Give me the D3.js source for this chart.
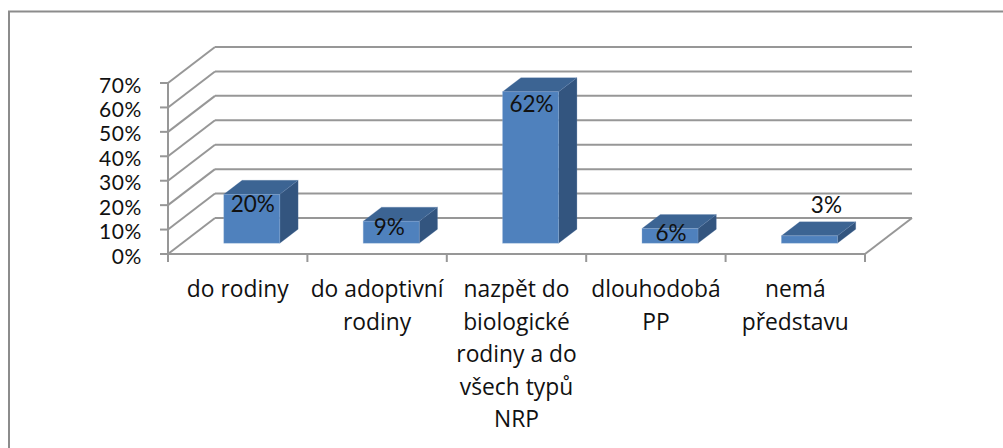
<!DOCTYPE html>
<html><head><meta charset="utf-8">
<script src="https://cdn.jsdelivr.net/npm/d3@7/dist/d3.min.js"></script>
<style>
html,body{margin:0;padding:0;background:#fff}
svg{display:block}
text{fill:#111}
.num{font-family:Lato,"Open Sans",sans-serif;letter-spacing:.6px}
.val{font-family:Lato,"Open Sans",sans-serif}
.cat{font-family:"Open Sans",Lato,sans-serif}
</style></head><body>
<svg id="c" width="1003" height="448"></svg>
<script>
const categories = ["do rodiny","do adoptivní rodiny","nazpět do biologické rodiny a do všech typů NRP","dlouhodobá PP","nemá představu"];
const values = [20,9,62,6,3];
const tickValues = [0,10,20,30,40,50,60,70];
// hand-placed label offsets from each bar's front-top centre, as in the reference
const labelShiftX = [1,-2,1,1,17];
const labelShiftY = [9,5,12,4,-31];

const W=1003,H=448,fs=21,valFs=22.5,catFs=22.8;
const svg=d3.select("#c");
const gridColor="#979797";
const x=d3.scaleBand().domain(categories).range([168,865]).paddingInner(0).paddingOuter(0);
const y=d3.scaleLinear().domain([0,70]).range([254,83]);
// depth: 0 front of floor, 1 back wall
const dx=d3.scaleLinear().domain([0,1]).range([0,47]);
const dy=d3.scaleLinear().domain([0,1]).range([0,-36]);
const depthFront=0.3,depthBack=0.69,barW=56;

// outer frame (top and left only are visible)
svg.append("path").attr("d",`M9,${H}V11.5H${W}`).attr("fill","none").attr("stroke","#8c8c8c").attr("stroke-width",2);

const g=svg.append("g");
// walls
const seg=(x1,y1,x2,y2,w=2,c=gridColor)=>g.append("line").attr("x1",x1).attr("y1",y1).attr("x2",x2).attr("y2",y2).attr("stroke",c).attr("stroke-width",w);
tickValues.forEach(v=>{
  const y0=y(v);
  seg(168,y0,168+dx(1),y0+dy(1));
  seg(168+dx(1),y0+dy(1),865+dx(1),y0+dy(1));
  seg(160,y0,168,y0);
});
seg(168,83,168,262);
seg(168,254,865,254);
seg(865,254,865+dx(1),254+dy(1));
x.domain().forEach(c=>seg(x(c),254,x(c),262));
seg(865,254,865,262);

// bars
const ox=dx(depthFront), oy=dy(depthFront);
const ddx=dx(depthBack)-ox, ddy=dy(depthBack)-oy;
const bars=svg.append("g").selectAll("g").data(categories).join("g");
const fx=c=>x(c)+ox+(x.bandwidth()-barW)/2;
const barTop=(d,i)=>y(values[i])+oy;
const base=y(0)+oy;
bars.append("path").attr("fill","#33557f").attr("stroke","#5b7da8").attr("stroke-opacity",.35).attr("stroke-width",.7)
  .attr("d",(c,i)=>`M${fx(c)+barW},${barTop(c,i)}l${ddx},${ddy}V${base+ddy}l${-ddx},${-ddy}Z`);
bars.append("path").attr("fill","#3c6493").attr("stroke","#5b7da8").attr("stroke-opacity",.35).attr("stroke-width",.7)
  .attr("d",(c,i)=>`M${fx(c)},${barTop(c,i)}l${ddx},${ddy}h${barW}l${-ddx},${-ddy}Z`);
bars.append("rect").attr("fill","#4f81bd").attr("stroke","#8fb0d8").attr("stroke-opacity",.5).attr("stroke-width",.7)
  .attr("x",c=>fx(c)).attr("y",barTop).attr("width",barW).attr("height",(c,i)=>base-barTop(c,i));

// value labels
svg.append("g").selectAll("text").data(categories).join("text").attr("class","val")
  .attr("text-anchor","middle").attr("dominant-baseline","central").attr("font-size",valFs)
  .attr("x",(c,i)=>fx(c)+barW/2+labelShiftX[i])
  .attr("y",(c,i)=>barTop(c,i)+labelShiftY[i])
  .text((c,i)=>values[i]+"%");

// y tick labels
svg.append("g").selectAll("text").data(tickValues).join("text").attr("class","num")
  .attr("text-anchor","end").attr("dominant-baseline","central").attr("font-size",fs)
  .attr("x",142).attr("y",v=>y(v)+1).text(v=>v+"%");

// category labels, wrapped to the band width
const catG=svg.append("g");
categories.forEach(c=>{
  const t=catG.append("text").attr("class","cat").attr("text-anchor","middle").attr("font-size",catFs).attr("y",297);
  const cx=x(c)+x.bandwidth()/2;
  let n=0,cur=[];
  let ts=t.append("tspan").attr("x",cx).attr("y",297);
  c.split(" ").forEach(w=>{
    cur.push(w);ts.text(cur.join(" "));
    if(ts.node().getComputedTextLength()>x.bandwidth()-1&&cur.length>1){
      cur.pop();ts.text(cur.join(" "));cur=[w];n++;
      ts=t.append("tspan").attr("x",cx).attr("y",297+n*32.6).text(w);
    }
  });
});
</script></body></html>
